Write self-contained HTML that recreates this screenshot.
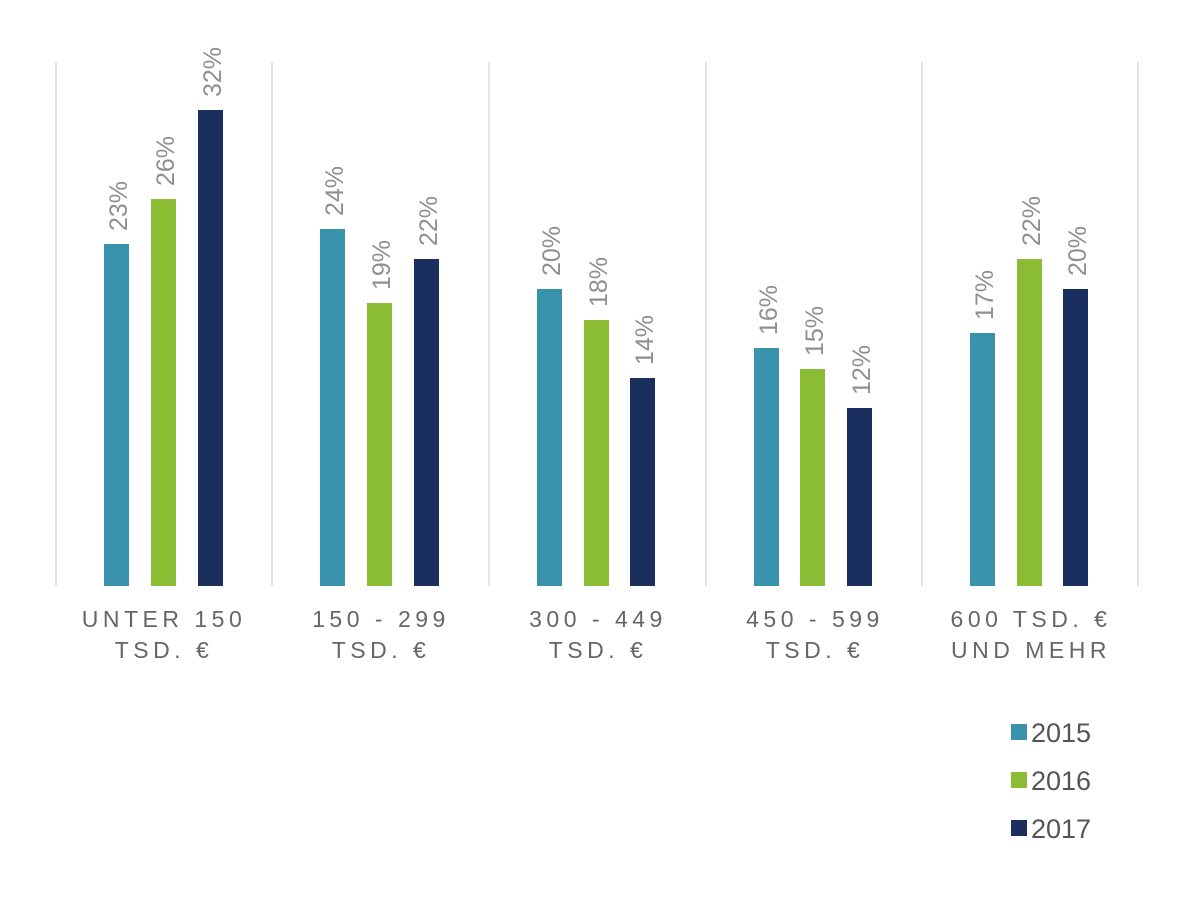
<!DOCTYPE html>
<html><head><meta charset="utf-8"><style>
body{margin:0;background:#fff;}
svg text{font-family:"Liberation Sans",sans-serif;}
</style></head><body>
<svg width="1200" height="901" xmlns="http://www.w3.org/2000/svg">
<g stroke="#e3e3e3" stroke-width="2">
<line x1="56" y1="62" x2="56" y2="586"/><line x1="272" y1="62" x2="272" y2="586"/>
<line x1="489" y1="62" x2="489" y2="586"/><line x1="706" y1="62" x2="706" y2="586"/>
<line x1="922" y1="62" x2="922" y2="586"/><line x1="1138" y1="62" x2="1138" y2="586"/>
</g>
<g>
<rect x="104" y="244" width="25" height="342" fill="#3a93ad"/>
<rect x="151" y="199" width="25" height="387" fill="#8abd34"/>
<rect x="198" y="110" width="25" height="476" fill="#1b2f5e"/>
<rect x="320" y="229" width="25" height="357" fill="#3a93ad"/>
<rect x="367" y="303" width="25" height="283" fill="#8abd34"/>
<rect x="414" y="259" width="25" height="327" fill="#1b2f5e"/>
<rect x="537" y="289" width="25" height="297" fill="#3a93ad"/>
<rect x="584" y="320" width="25" height="266" fill="#8abd34"/>
<rect x="630" y="378" width="25" height="208" fill="#1b2f5e"/>
<rect x="754" y="348" width="25" height="238" fill="#3a93ad"/>
<rect x="800" y="369" width="25" height="217" fill="#8abd34"/>
<rect x="847" y="408" width="25" height="178" fill="#1b2f5e"/>
<rect x="970" y="333" width="25" height="253" fill="#3a93ad"/>
<rect x="1017" y="259" width="25" height="327" fill="#8abd34"/>
<rect x="1063" y="289" width="25" height="297" fill="#1b2f5e"/>
</g>
<g fill="#8f8f8f" font-size="25">
<text transform="translate(127,231) rotate(-90)">23%</text>
<text transform="translate(174,186) rotate(-90)">26%</text>
<text transform="translate(221,97) rotate(-90)">32%</text>
<text transform="translate(343,216) rotate(-90)">24%</text>
<text transform="translate(390,290) rotate(-90)">19%</text>
<text transform="translate(437,246) rotate(-90)">22%</text>
<text transform="translate(560,276) rotate(-90)">20%</text>
<text transform="translate(607,307) rotate(-90)">18%</text>
<text transform="translate(653,365) rotate(-90)">14%</text>
<text transform="translate(777,335) rotate(-90)">16%</text>
<text transform="translate(823,356) rotate(-90)">15%</text>
<text transform="translate(870,395) rotate(-90)">12%</text>
<text transform="translate(993,320) rotate(-90)">17%</text>
<text transform="translate(1040,246) rotate(-90)">22%</text>
<text transform="translate(1086,276) rotate(-90)">20%</text>
</g>
<g fill="#666" font-size="23" text-anchor="middle" letter-spacing="4.5">
<text x="164" y="627">UNTER 150</text><text x="164" y="658">TSD. €</text>
<text x="381" y="627">150 - 299</text><text x="381" y="658">TSD. €</text>
<text x="598" y="627">300 - 449</text><text x="598" y="658">TSD. €</text>
<text x="815" y="627">450 - 599</text><text x="815" y="658">TSD. €</text>
<text x="1031" y="627">600 TSD. €</text><text x="1031" y="658">UND MEHR</text>
</g>
<rect x="1011" y="724" width="16" height="16" fill="#3a93ad"/>
<rect x="1011" y="772" width="16" height="16" fill="#8abd34"/>
<rect x="1011" y="820" width="16" height="16" fill="#1b2f5e"/>
<g fill="#555" font-size="27">
<text x="1031" y="742">2015</text><text x="1031" y="790">2016</text><text x="1031" y="838">2017</text>
</g>
</svg>
</body></html>
